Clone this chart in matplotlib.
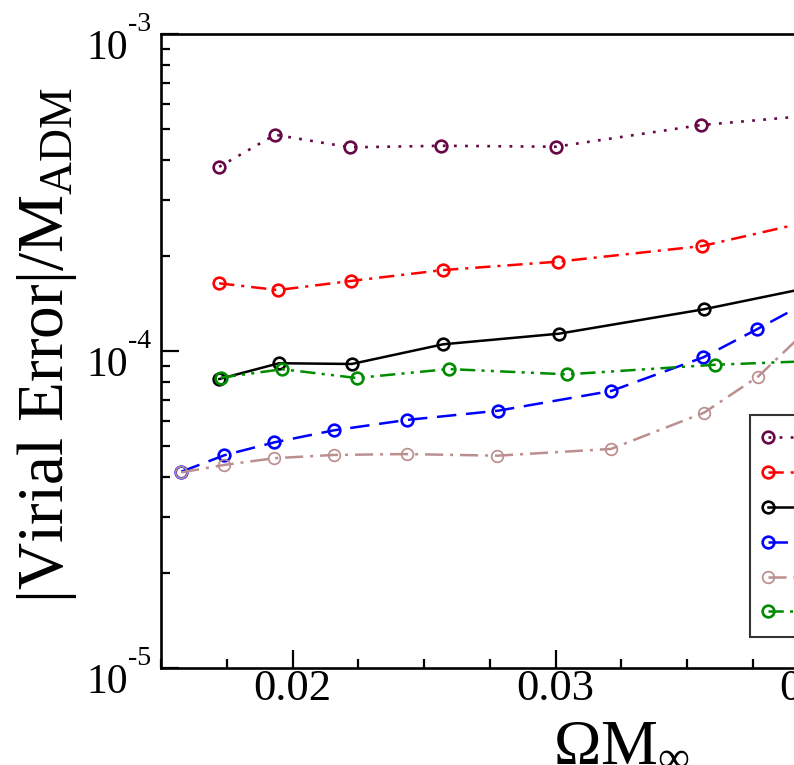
import matplotlib
matplotlib.use('Agg')
import matplotlib.pyplot as plt
import matplotlib.transforms as mtrans
from matplotlib.lines import Line2D
from matplotlib.legend_handler import HandlerLine2D
from matplotlib.ticker import (MultipleLocator, LogLocator, NullFormatter, FixedLocator,
                               FixedFormatter)

plt.rcParams['font.family'] = ['Liberation Serif', 'DejaVu Serif']
plt.rcParams['mathtext.fontset'] = 'custom'
plt.rcParams['mathtext.rm'] = 'Liberation Serif'
plt.rcParams['mathtext.default'] = 'regular'
plt.rcParams['lines.scale_dashes'] = False

# ---- data ----
purple_x = [0.01721, 0.01934, 0.02219, 0.02565, 0.03002, 0.03552, 0.0425]
purple_y = [3.81e-4, 4.81e-4, 4.39e-4, 4.44e-4, 4.41e-4, 5.16e-4, 5.79e-4]

red_x = [0.01721, 0.01944, 0.02222, 0.02571, 0.03008, 0.03558, 0.0425]
red_y = [1.635e-4, 1.557e-4, 1.663e-4, 1.80e-4, 1.913e-4, 2.144e-4, 2.90e-4]

black_x = [0.01722, 0.01949, 0.02225, 0.02573, 0.03013, 0.03564, 0.0425]
black_y = [8.16e-5, 9.15e-5, 9.10e-5, 1.050e-4, 1.134e-4, 1.354e-4, 1.773e-4]

blue_x = [0.01577, 0.01741, 0.01931, 0.02157, 0.02434, 0.02781, 0.03212, 0.03562, 0.03766, 0.0400]
blue_y = [4.16e-5, 4.69e-5, 5.15e-5, 5.62e-5, 6.06e-5, 6.48e-5, 7.48e-5, 9.55e-5, 1.171e-4, 1.49e-4]

brown_x = [0.01577, 0.01739, 0.01931, 0.02157, 0.02434, 0.02779, 0.03211, 0.03565, 0.03770, 0.0400]
brown_y = [4.14e-5, 4.37e-5, 4.59e-5, 4.70e-5, 4.73e-5, 4.675e-5, 4.91e-5, 6.39e-5, 8.30e-5, 1.26e-4]

green_x = [0.01727, 0.01961, 0.02244, 0.02594, 0.03044, 0.03607, 0.0432]
green_y = [8.24e-5, 8.76e-5, 8.22e-5, 8.77e-5, 8.44e-5, 9.05e-5, 9.53e-5]

labels = ["Sequence 1", "Sequence 2", "Sequence 3", "Sequence 4", "Sequence 5", "Sequence 6"]
x_major = [0.02, 0.03, 0.04]
x_major_labels = ["0.02", "0.03", "0.04"]
y_major = [1e-5, 1e-4, 1e-3]
y_major_base = ["10", "10", "10"]
y_major_exp = ["-5", "-4", "-3"]

# ---- figure ----
fig = plt.figure(figsize=(7.94, 7.65), dpi=100)
ax = fig.add_axes([161 / 794, 97 / 765, 789 / 794, 634 / 765])

styles = [
    dict(color='#670748', ls=(0, (2, 6)), mew=1.9, lw=1.9),
    dict(color='#ff0000', ls=(0, (11, 5, 2.2, 5)), mew=1.9, lw=1.8),
    dict(color='#000000', ls='-', mew=1.9, lw=1.8),
    dict(color='#0000ff', ls=(0, (14, 7)), mew=1.9, lw=1.8),
    dict(color='#bc8f8f', ls=(0, (13, 5, 2.2, 5)), mew=1.25, lw=1.8),
    dict(color='#008b00', ls=(0, (11, 4.5, 2.2, 4.5, 2.2, 4.5)), mew=1.9, lw=1.8),
]
series = [(purple_x, purple_y), (red_x, red_y), (black_x, black_y),
          (blue_x, blue_y), (brown_x, brown_y), (green_x, green_y)]

handles = []
for (xs, ys), st, lab in zip(series, styles, labels):
    h, = ax.plot(xs, ys, color=st['color'], linestyle=st['ls'], linewidth=st['lw'],
                 marker='o', markersize=8.4, markerfacecolor='none',
                 markeredgecolor=st['color'], markeredgewidth=st['mew'], label=lab,
                 dash_capstyle='butt')
    handles.append(h)

ax.set_yscale('log')
ax.set_xlim(0.015, 0.045)
ax.set_ylim(1e-5, 1e-3)

ax.xaxis.set_major_locator(FixedLocator(x_major))
ax.xaxis.set_major_formatter(FixedFormatter(x_major_labels))
ax.xaxis.set_minor_locator(MultipleLocator(0.0025))
ax.yaxis.set_major_locator(FixedLocator(y_major))
ax.yaxis.set_major_formatter(FixedFormatter(y_major_base))
ax.yaxis.set_minor_locator(LogLocator(base=10, subs=range(2, 10)))
ax.yaxis.set_minor_formatter(NullFormatter())

ax.tick_params(which='both', direction='in', top=False, right=False, width=1.6, color='black')
ax.tick_params(which='major', length=13)
ax.tick_params(which='minor', length=6.5)
ax.tick_params(axis='x', which='major', pad=1, labelsize=32)
ax.tick_params(axis='y', which='major', pad=33 * 0.72, labelsize=30)

for sp in ax.spines.values():
    sp.set_linewidth(1.9)

# exponents of the y tick labels, raised like in the reference
exp_trans = mtrans.blended_transform_factory(ax.transAxes, ax.transData) + \
    mtrans.ScaledTranslation(0, 3 / 100, fig.dpi_scale_trans)
for yv, ex in zip(y_major, y_major_exp):
    ax.text((128 - 161) / 789, yv, ex, transform=exp_trans, ha='left', va='baseline',
            fontsize=20, clip_on=False)

ax.set_xlabel(r'ΩM$_{\mathregular{∞}}$', fontsize=46, va='baseline')
ax.xaxis.set_label_coords(0.584, -(760 - 668) / 634)
ax.set_ylabel(r'|Virial Error|/M$_{\mathregular{ADM}}$', fontsize=47, va='center')
ax.yaxis.set_label_coords((47 - 161) / 789, (668 - 345) / 634)

leg = ax.legend(handles=handles, loc='upper left',
                bbox_to_anchor=(750 / 794, 1 - 415 / 765), bbox_transform=fig.transFigure,
                borderaxespad=0, numpoints=2, handlelength=3.5, fontsize=12,
                borderpad=0.97, labelspacing=1.13, frameon=True, fancybox=False,
                edgecolor='#333333', framealpha=1,
                handler_map={Line2D: HandlerLine2D(marker_pad=0.1, numpoints=2)})
leg.get_frame().set_linewidth(1.5)

# put the baseline of "10" 25 px below its tick, as in the reference
fig.canvas.draw()
_off = mtrans.ScaledTranslation(0, -25 / 100, fig.dpi_scale_trans)
for tk in ax.yaxis.get_major_ticks():
    tk.label1.set_va('baseline')
    tk.label1.set_transform(tk.label1.get_transform() + _off)

fig.savefig('out.png', dpi=100)
